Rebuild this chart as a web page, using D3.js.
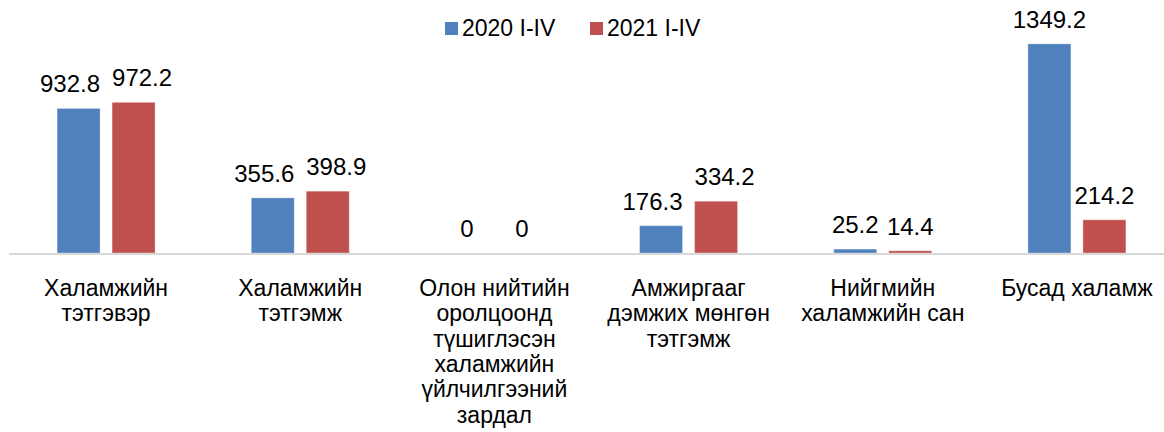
<!DOCTYPE html>
<html>
<head>
<meta charset="utf-8">
<title>Халамж 2020-2021 I-IV</title>
<script src="https://d3js.org/d3.v7.min.js"></script>
<style>
  body { margin: 0; background: #fff; }
  text { font-family: 'Liberation Sans', Arial, sans-serif; fill: #000; }
</style>
</head>
<body>
<div id="chart"></div>
<script>
// categories (line breaks marked with |)
var categories = [
  "Халамжийн|тэтгэвэр",
  "Халамжийн|тэтгэмж",
  "Олон нийтийн|оролцоонд|түшиглэсэн|халамжийн|үйлчилгээний|зардал",
  "Амжиргааг|дэмжих мөнгөн|тэтгэмж",
  "Нийгмийн|халамжийн сан",
  "Бусад халамж"
];
var seriesNames = ["2020 I-IV", "2021 I-IV"];
var values2020 = [932.8, 355.6, 0, 176.3, 25.2, 1349.2];
var values2021 = [972.2, 398.9, 0, 334.2, 14.4, 214.2];
var colors = ["#4f81bd", "#c0504d"];

var width = 1164, height = 432;
var baseY = 253;

var svg = d3.select("#chart").append("svg")
  .attr("width", width).attr("height", height);

var x0 = d3.scaleBand().domain(d3.range(categories.length)).range([9, 1174]).padding(0);
var groupW = 98;
var x1 = d3.scaleBand().domain(seriesNames).range([0, groupW]).paddingInner(12 / 55).paddingOuter(0);
var y = d3.scaleLinear().domain([0, 1400]).range([baseY, 36]);

var rows = categories.map(function(c, i) {
  return { i: i, vals: [values2020[i], values2021[i]] };
});

function barX(i, s) {
  return x0(i) + (x0.bandwidth() - groupW) / 2 + x1(seriesNames[s]);
}

// bars
var g = svg.selectAll(".grp").data(rows).enter().append("g").attr("class", "grp");
g.selectAll("rect").data(function(d) {
    return d.vals.map(function(v, s) { return { i: d.i, s: s, v: v }; });
  })
  .enter().append("rect")
  .attr("x", function(d) { return barX(d.i, d.s); })
  .attr("y", function(d) { return y(d.v); })
  .attr("width", x1.bandwidth())
  .attr("height", function(d) { return baseY - y(d.v); })
  .attr("fill", function(d) { return colors[d.s]; })
  .attr("stroke", "rgba(255,255,255,0.35)")
  .attr("stroke-width", 1);

// baseline
svg.append("line")
  .attr("x1", 9).attr("x2", width)
  .attr("y1", baseY + 1).attr("y2", baseY + 1)
  .attr("stroke", "#d9d9d9").attr("stroke-width", 2);

// data labels
var labels = g.selectAll(".lbl").data(function(d) {
    return d.vals.map(function(v, s) { return { i: d.i, s: s, v: v }; });
  })
  .enter().append("text")
  .attr("class", "lbl")
  .attr("text-anchor", "middle")
  .style("font-size", "24px")
  .attr("x", function(d) { return barX(d.i, d.s) + x1.bandwidth() / 2; })
  .attr("y", function(d) { return y(d.v) - 16; })
  .text(function(d) { return d.v === 0 ? "0" : d3.format(".1f")(d.v); });

// push apart labels of the same group when they collide
g.each(function() {
  var t = d3.select(this).selectAll(".lbl").nodes();
  var a = t[0].getBBox(), b = t[1].getBBox();
  var hOver = (a.x + a.width) - b.x;
  var vOver = Math.min(a.y + a.height, b.y + b.height) - Math.max(a.y, b.y);
  if (hOver > 0 && vOver > 0) {
    var shift = (hOver + 12) / 2;
    d3.select(t[0]).attr("x", +d3.select(t[0]).attr("x") - shift);
    d3.select(t[1]).attr("x", +d3.select(t[1]).attr("x") + shift);
  }
});

// category labels
svg.selectAll(".cat").data(categories).enter().append("text")
  .attr("class", "cat")
  .attr("text-anchor", "middle")
  .style("font-size", "23px")
  .each(function(c, i) {
    var lines = c.split("|");
    var cx = x0(i) + x0.bandwidth() / 2;
    d3.select(this).selectAll("tspan").data(lines).enter().append("tspan")
      .attr("x", cx)
      .attr("y", function(l, k) { return 296 + k * 25.3; })
      .text(function(l) { return l; });
  });

// legend
var legX = [445, 590];
var leg = svg.selectAll(".leg").data(seriesNames).enter().append("g").attr("class", "leg");
leg.append("rect")
  .attr("x", function(d, i) { return legX[i]; })
  .attr("y", 22).attr("width", 13).attr("height", 13)
  .attr("fill", function(d, i) { return colors[i]; });
leg.append("text")
  .attr("x", function(d, i) { return legX[i] + 17; })
  .attr("y", 36)
  .style("font-size", "23px")
  .text(function(d) { return d; });
</script>
</body>
</html>
